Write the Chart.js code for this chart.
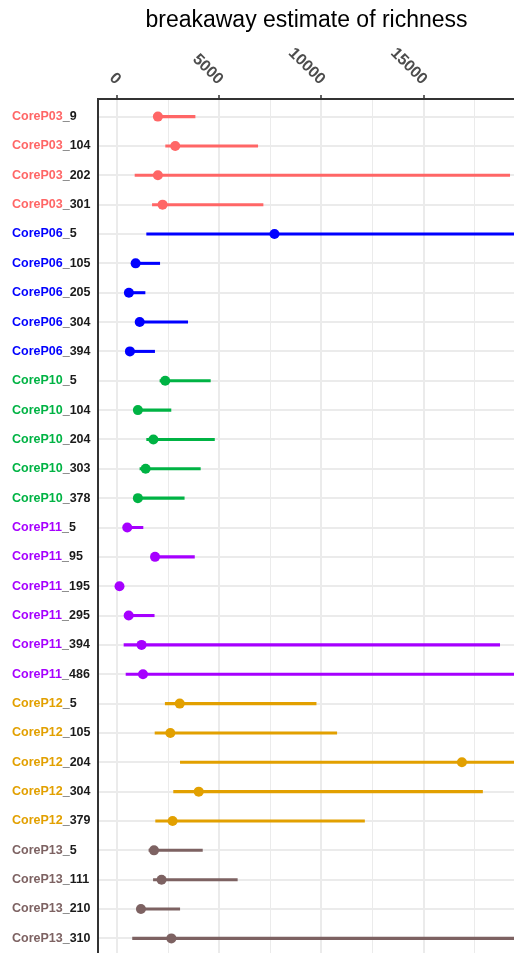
<!DOCTYPE html>
<html lang="en">
<head>
<meta charset="UTF-8">
<title>breakaway estimate of richness</title>
<script src="https://cdn.jsdelivr.net/npm/chart.js"></script>
<style>
  html, body { margin: 0; padding: 0; background: #fff; overflow: hidden; }
  #wrap { position: relative; width: 520px; height: 961px; }
</style>
</head>
<body>
<div id="wrap"><canvas id="myChart"></canvas></div>
<script>
// data
const samples = [
  'CoreP03_9', 'CoreP03_104', 'CoreP03_202', 'CoreP03_301',
  'CoreP06_5', 'CoreP06_105', 'CoreP06_205', 'CoreP06_304', 'CoreP06_394',
  'CoreP10_5', 'CoreP10_104', 'CoreP10_204', 'CoreP10_303', 'CoreP10_378',
  'CoreP11_5', 'CoreP11_95', 'CoreP11_195', 'CoreP11_295', 'CoreP11_394', 'CoreP11_486',
  'CoreP12_5', 'CoreP12_105', 'CoreP12_204', 'CoreP12_304', 'CoreP12_379',
  'CoreP13_5', 'CoreP13_111', 'CoreP13_210', 'CoreP13_310'
];
const estimate = [
  1990, 2840, 1990, 2220,
  7700, 900, 570, 1100, 620,
  2350, 1010, 1770, 1390, 1010,
  490, 1850, 110, 560, 1190, 1260,
  3060, 2600, 16880, 3990, 2710,
  1800, 2170, 1160, 2650
];
const lower = [
  1850, 2370, 870, 1720,
  1440, 800, 500, 1000, 550,
  2090, 900, 1440, 1110, 900,
  420, 1750, 60, 480, 330, 430,
  2350, 1850, 3090, 2760, 1880,
  1550, 1770, 1050, 750
];
const upper = [
  3810, 6880, 19220, 7140,
  30000, 2080, 1360, 3450, 1830,
  4560, 2630, 4760, 4070, 3280,
  1260, 3780, 160, 1810, 18730, 30000,
  9740, 10750, 30000, 17890, 12110,
  4170, 5880, 3060, 30000
];
const xTickLabels = [0, 5000, 10000, 15000];
const groupColors = {
  CoreP03: '#FF6666',
  CoreP06: '#0000FF',
  CoreP10: '#00B344',
  CoreP11: '#A600FF',
  CoreP12: '#E2A000',
  CoreP13: '#7D6262'
};

const groups = samples.map(s => s.split('_')[0]);
const colors = groups.map(g => groupColors[g]);
const isMajor = c => !!(c.tick && c.tick.value % 5000 === 0);

// rotated x tick labels and two-coloured sample labels
const labelPlugin = {
  id: 'labelPlugin',
  afterDraw(chart) {
    const ctx = chart.ctx;
    const xs = chart.scales.x;
    const ys = chart.scales.y;
    ctx.save();
    ctx.fillStyle = '#4d4d4d';
    ctx.font = 'bold 16px "Liberation Sans", Arial, sans-serif';
    ctx.textAlign = 'right';
    ctx.textBaseline = 'middle';
    xTickLabels.forEach(v => {
      ctx.save();
      ctx.translate(xs.getPixelForValue(v) + 1, 82);
      ctx.rotate(Math.PI / 4);
      ctx.fillText(String(v), 0, 0);
      ctx.restore();
    });
    ctx.font = 'bold 12.5px "Liberation Sans", Arial, sans-serif';
    ctx.textAlign = 'left';
    samples.forEach((s, i) => {
      const y = ys.getPixelForValue(i);
      const g = groups[i];
      const rest = s.slice(g.length);
      ctx.fillStyle = colors[i];
      ctx.fillText(g, 12, y);
      ctx.fillStyle = '#1a1a1a';
      ctx.fillText(rest, 12 + ctx.measureText(g).width, y);
    });
    ctx.restore();
  }
};

const ctx = document.getElementById('myChart').getContext('2d');
const myChart = new Chart(ctx, {
  type: 'bar',
  data: {
    datasets: [
      {
        type: 'scatter',
        label: 'estimate',
        data: samples.map((s, i) => ({ x: estimate[i], y: i })),
        backgroundColor: colors,
        borderWidth: 0,
        pointRadius: 5,
        pointHoverRadius: 5,
        order: 0
      },
      {
        type: 'bar',
        label: 'interval',
        indexAxis: 'y',
        data: samples.map((s, i) => ({ x: [lower[i], upper[i]], y: i })),
        backgroundColor: colors,
        borderWidth: 0,
        borderSkipped: false,
        barThickness: 2.4,
        order: 1
      }
    ]
  },
  options: {
    responsive: true,
    maintainAspectRatio: false,
    animation: false,
    events: [],
    layout: { padding: 0 },
    plugins: {
      legend: { display: false },
      tooltip: { enabled: false },
      title: {
        display: true,
        fullSize: false,
        text: 'breakaway estimate of richness',
        color: '#000',
        font: { family: '"Liberation Sans", Arial, sans-serif', size: 23, weight: 'normal' },
        padding: { top: 7, bottom: 0 }
      }
    },
    scales: {
      x: {
        type: 'linear',
        position: 'top',
        offset: false,
        min: -943,
        max: 19480,
        afterBuildTicks: s => {
          s.ticks = [0, 2500, 5000, 7500, 10000, 12500, 15000, 17500].map(v => ({ value: v }));
        },
        afterFit: s => { s.height = 64.4; },
        ticks: { display: false },
        grid: {
          offset: false,
          color: '#ebebeb',
          lineWidth: c => isMajor(c) ? 2 : 1,
          drawTicks: true,
          tickLength: 4,
          tickWidth: 1.5,
          tickColor: c => isMajor(c) ? '#333333' : 'rgba(0,0,0,0)'
        },
        border: { display: true, color: '#333333', width: 2 }
      },
      y: {
        type: 'linear',
        reverse: true,
        offset: false,
        min: -0.6,
        max: 28.6,
        afterBuildTicks: s => {
          s.ticks = samples.map((_, i) => ({ value: i }));
        },
        afterFit: s => { s.width = 98; },
        ticks: { display: false },
        grid: { offset: false, color: '#ebebeb', lineWidth: 2, drawTicks: false },
        border: { display: true, color: '#333333', width: 2 }
      }
    }
  },
  plugins: [labelPlugin]
});
</script>
</body>
</html>
